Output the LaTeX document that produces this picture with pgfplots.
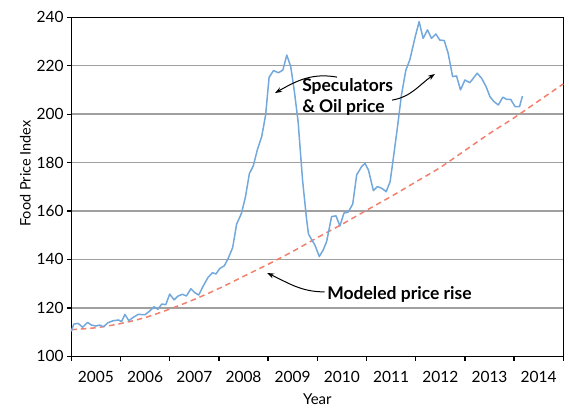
\documentclass[border=0pt]{standalone}
\usepackage{fontspec}
\setmainfont{Lato}
\usepackage{pgfplots}
\pgfplotsset{compat=1.18}
\usetikzlibrary{arrows.meta}
\definecolor{blueline}{RGB}{115,168,220}
\definecolor{redline}{RGB}{242,128,108}
\definecolor{gridgray}{RGB}{160,160,160}
\begin{document}
\begin{tikzpicture}
\useasboundingbox (-71.3pt,-52.7pt) rectangle (497.7pt,356.3pt);
\begin{axis}[
  scale only axis,
  width=492pt, height=339pt,
  xmin=2005, xmax=2015, ymin=100, ymax=240,
  axis line style={black, line width=1.4pt},
  ytick={100,120,...,240},
  xtick={2005,2006,...,2015},
  xticklabels={},
  extra x ticks={2005.5,2006.5,2007.5,2008.5,2009.5,2010.5,2011.5,2012.5,2013.5,2014.5},
  extra x tick labels={2005,2006,2007,2008,2009,2010,2011,2012,2013,2014},
  extra x tick style={major tick length=0pt, grid=none},
  tick align=outside,
  major tick length=4.5pt,
  tick style={black, line width=1.3pt},
  xtick pos=bottom, ytick pos=left,
  ymajorgrids,
  major grid style={gridgray, line width=1.5pt},
  /pgf/number format/assume math mode=true,
  tick label style={font=\fontsize{15.5}{18}\selectfont},
  yticklabel style={anchor=east, inner sep=0pt, xshift=-3pt},
  xticklabel style={anchor=center, inner sep=0pt, yshift=-20.5pt},
  xlabel={Year},
  ylabel={Food Price Index},
  every axis x label/.style={at={(axis description cs:0.5,-0.127)}, anchor=center, font=\fontsize{15}{17}\selectfont},
  every axis y label/.style={at={(axis description cs:-0.0935,0.539)}, anchor=center, rotate=90, font=\fontsize{14.5}{17}\selectfont},
  clip=false,
]
\addplot[redline, line width=1.5pt, dash pattern=on 5.5pt off 4pt, smooth] coordinates {
(2005.0,111.0) (2005.5,111.8) (2006.0,113.5) (2006.5,116.0) (2007.0,119.5)
(2007.5,123.5) (2008.0,128.0) (2008.5,133.0) (2009.0,138.0) (2009.5,143.3)
(2010.0,149.0) (2010.5,154.5) (2011.0,160.3) (2011.5,166.0) (2012.0,172.0)
(2012.5,178.0) (2013.0,185.0) (2013.5,192.0) (2014.0,198.5) (2014.5,205.5)
(2015.0,212.5)};
\addplot[blueline, line width=1.5pt, line join=round] coordinates {
(2005.00,110.3) (2005.05,113.3) (2005.14,113.6) (2005.23,112.0) (2005.33,114.0)
(2005.41,112.9) (2005.50,112.5) (2005.58,112.9) (2005.65,112.2) (2005.75,113.9)
(2005.85,114.7) (2005.96,115.0) (2006.02,114.3) (2006.09,117.3) (2006.17,114.7)
(2006.26,116.1) (2006.36,117.3) (2006.50,117.2) (2006.60,118.8) (2006.68,120.5)
(2006.76,119.4) (2006.84,121.6) (2006.92,121.3) (2007.00,125.7) (2007.09,123.3)
(2007.17,124.9) (2007.26,125.6) (2007.34,124.9) (2007.43,127.9) (2007.51,126.3)
(2007.59,125.3) (2007.68,129.0) (2007.78,132.6) (2007.87,134.5) (2007.94,134.0)
(2008.02,136.3) (2008.11,137.4) (2008.19,140.5) (2008.28,144.9) (2008.36,154.6)
(2008.46,159.1) (2008.54,165.9) (2008.62,175.5) (2008.70,178.7) (2008.78,185.2)
(2008.87,190.7) (2008.95,199.7) (2009.02,215.2) (2009.11,218.0) (2009.21,217.1)
(2009.30,218.2) (2009.38,224.4) (2009.46,219.6) (2009.53,210.0) (2009.61,196.9)
(2009.70,172.8) (2009.78,157.0) (2009.82,150.5) (2009.89,148.0) (2009.95,146.0)
(2010.04,141.2) (2010.12,143.9) (2010.19,147.4) (2010.29,157.7) (2010.38,158.0)
(2010.46,153.8) (2010.54,159.1) (2010.63,159.6) (2010.72,162.9) (2010.80,174.9)
(2010.90,178.3) (2010.97,179.7) (2011.04,176.9) (2011.14,168.4) (2011.22,170.1)
(2011.31,169.4) (2011.40,168.0) (2011.48,172.1) (2011.55,182.5) (2011.63,194.8)
(2011.71,207.9) (2011.80,218.2) (2011.88,222.4) (2011.99,232.0) (2012.07,238.2)
(2012.15,231.3) (2012.24,234.8) (2012.32,231.3) (2012.41,233.1) (2012.49,230.6)
(2012.58,230.4) (2012.66,225.1) (2012.75,215.5) (2012.83,215.8) (2012.91,210.0)
(2013.00,214.1) (2013.10,213.0) (2013.17,214.8) (2013.25,216.9) (2013.34,214.8)
(2013.43,211.4) (2013.51,207.2) (2013.59,205.2) (2013.68,203.8) (2013.77,207.0)
(2013.85,206.1) (2013.93,206.1) (2014.02,203.1) (2014.11,203.1) (2014.17,207.5)};
\node[anchor=west, align=left, font=\fontsize{17.5}{21}\selectfont\bfseries, inner sep=0pt]
  at (axis cs:2009.69,207.3) {Speculators\\\& Oil price};
\node[anchor=west, font=\fontsize{17.5}{20}\selectfont\bfseries, inner sep=0pt]
  at (axis cs:2010.20,125.7) {Modeled price rise};
\draw[-{Stealth[length=7pt,width=5pt]}, line width=1pt]
  (axis cs:2010.40,215.3) to[out=170,in=30] (axis cs:2009.14,208.7);
\draw[-{Stealth[length=7pt,width=5pt]}, line width=1pt]
  (axis cs:2011.52,205.8) to[out=10,in=215] (axis cs:2012.39,216.6);
\draw[-{Stealth[length=7pt,width=5pt]}, line width=1pt]
  (axis cs:2010.15,126.6) to[out=180,in=-25] (axis cs:2008.98,134.4);
\end{axis}
\end{tikzpicture}
\end{document}
